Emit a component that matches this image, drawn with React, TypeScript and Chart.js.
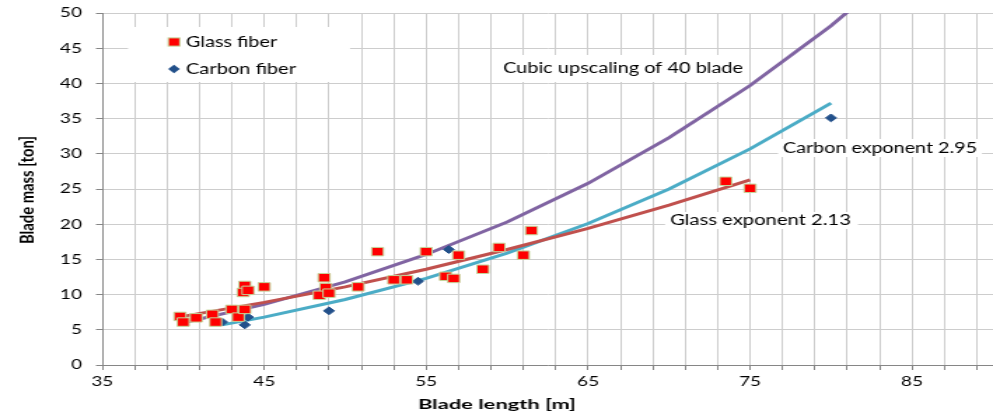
import React, { useEffect, useRef } from 'react';
import { Chart, registerables } from 'chart.js';

Chart.register(...registerables);

// ---------- data ----------
const glassLength = [39.8, 40.0, 40.8, 41.8, 42.0, 43.0, 43.4, 43.8, 43.8, 43.7, 44.0, 45.0, 48.7, 48.8, 48.4, 49.0, 50.8, 52.0, 53.0, 53.8, 55.0, 57.0, 56.2, 56.7, 58.5, 59.5, 61.0, 61.5, 73.5, 75.0];
const glassMass = [6.9, 6.1, 6.7, 7.2, 6.1, 7.9, 6.8, 7.9, 11.3, 10.3, 10.6, 11.1, 12.4, 11.0, 9.9, 10.2, 11.1, 16.1, 12.1, 12.1, 16.1, 15.6, 12.6, 12.3, 13.6, 16.7, 15.6, 19.1, 26.1, 25.1];

const carbonLength = [42.4, 43.8, 44.0, 49.0, 54.5, 56.4, 80.0];
const carbonMass = [6.1, 5.7, 6.8, 7.7, 11.9, 16.4, 35.1];

const cubicLength = [40, 45, 50, 55, 60, 65, 70, 75, 80, 85];
const cubicMass = [6.0, 8.6, 11.8, 15.7, 20.3, 25.8, 32.3, 39.7, 48.2, 57.8];

const carbonFitLength = [42.4, 45, 50, 55, 60, 65, 70, 75, 80];
const carbonFitMass = [5.7, 6.8, 9.3, 12.3, 15.9, 20.1, 25.0, 30.7, 37.2];

const glassFitLength = [39.7, 45, 50, 55, 60, 65, 70, 75];
const glassFitMass = [6.8, 8.9, 11.1, 13.6, 16.4, 19.4, 22.7, 26.3];

const xTickLabels = ['35', '45', '55', '65', '75', '85'];
const xMin = 35;
const xMax = 90;
const xMinorStep = 2;
const yMin = 0;
const yMax = 50;
const yStep = 5;

const seriesNames = ['Glass fiber', 'Carbon fiber'];
const annotationTexts = ['Cubic upscaling of 40 blade', 'Carbon exponent 2.95', 'Glass exponent 2.13'];
const xTitle = 'Blade length [m]';
const yTitle = 'Blade mass [ton]';

// ---------- layout ----------
const CSS_W = 993;
const CSS_H = 417;
const W = 709; // internal canvas width; the picture is stretched horizontally
const S = CSS_W / W;
const FONT = 'Lato';

const GLASS_FILL = '#FF0000';
const GLASS_EDGE = '#C3D69B';
const CARBON = '#22508A';
const GRID = '#CDCDCD';
const AXIS = '#868686';

const toPts = (xs: number[], ys: number[]) => xs.map((x, i) => ({ x, y: ys[i] }));

function fitted(ctx: CanvasRenderingContext2D, text: string, x: number, y: number, targetW: number, font: string, align: CanvasTextAlign, rot = 0) {
  ctx.save();
  ctx.font = font;
  const m = ctx.measureText(text).width;
  ctx.translate(x, y);
  if (rot) ctx.rotate(rot);
  ctx.scale(targetW / m, 1);
  ctx.textAlign = align;
  ctx.textBaseline = 'middle';
  ctx.fillStyle = '#000';
  ctx.fillText(text, 0, 0);
  ctx.restore();
}

const overlayPlugin = {
  id: 'overlay',
  beforeDatasetsDraw(chart: any) {
    const ctx: CanvasRenderingContext2D = chart.ctx;
    ctx.save();
    // white boxes (legend + annotation labels)
    ctx.fillStyle = '#FFFFFF';
    const boxes = [
      [128, 27, 350, 82],
      [498, 55, 748, 82],
      [778, 139, 982, 157],
      [665, 212, 858, 229],
    ];
    boxes.forEach(([x1, y1, x2, y2]) => ctx.fillRect(x1 / S, y1, (x2 - x1) / S, y2 - y1));

    // legend markers
    const mx = 174 / S;
    ctx.fillStyle = GLASS_FILL;
    ctx.strokeStyle = GLASS_EDGE;
    ctx.lineWidth = 1;
    ctx.fillRect(mx - 4.1, 42 - 4.1, 8.2, 8.2);
    ctx.strokeRect(mx - 4.1, 42 - 4.1, 8.2, 8.2);
    ctx.fillStyle = CARBON;
    ctx.beginPath();
    ctx.moveTo(mx - 4.2, 69);
    ctx.lineTo(mx, 64.8);
    ctx.lineTo(mx + 4.2, 69);
    ctx.lineTo(mx, 73.2);
    ctx.closePath();
    ctx.fill();
    ctx.restore();

    const lf = `15px ${FONT}`;
    fitted(ctx, seriesNames[0], 186 / S, 42, 91 / S, lf, 'left');
    fitted(ctx, seriesNames[1], 186 / S, 69, 110 / S, lf, 'left');

    const af = `15.5px ${FONT}`;
    fitted(ctx, annotationTexts[0], 503 / S, 68, 240 / S, af, 'left');
    fitted(ctx, annotationTexts[1], 783 / S, 148, 194 / S, af, 'left');
    fitted(ctx, annotationTexts[2], 670 / S, 220, 181 / S, af, 'left');
  },
  afterDraw(chart: any) {
    const ctx: CanvasRenderingContext2D = chart.ctx;
    const tf = `bold 13.5px ${FONT}`;
    fitted(ctx, xTitle, 497 / S, 405, 158 / S, tf, 'center');
    fitted(ctx, yTitle, 27 / S, 190, 108, tf, 'center', -Math.PI / 2);
  },
};

export default function App() {
  const ref = useRef<HTMLCanvasElement>(null);

  useEffect(() => {
    const canvas = ref.current;
    if (!canvas) return;
    const chart = new Chart(canvas, {
      type: 'scatter',
      data: {
        datasets: [
          {
            label: seriesNames[0],
            data: toPts(glassLength, glassMass),
            pointStyle: 'rect',
            pointRadius: 6.0,
            backgroundColor: GLASS_FILL,
            borderColor: GLASS_EDGE,
            borderWidth: 1,
          },
          {
            label: seriesNames[1],
            data: toPts(carbonLength, carbonMass),
            pointStyle: 'rectRot',
            pointRadius: 3.9,
            backgroundColor: CARBON,
            borderColor: CARBON,
            borderWidth: 1,
          },
          {
            label: annotationTexts[2],
            data: toPts(glassFitLength, glassFitMass),
            showLine: true,
            pointRadius: 0,
            borderColor: '#C0504D',
            backgroundColor: '#C0504D',
            borderWidth: 3,
          },
          {
            label: annotationTexts[1],
            data: toPts(carbonFitLength, carbonFitMass),
            showLine: true,
            pointRadius: 0,
            borderColor: '#4BACC6',
            backgroundColor: '#4BACC6',
            borderWidth: 3,
          },
          {
            label: annotationTexts[0],
            data: toPts(cubicLength, cubicMass),
            showLine: true,
            pointRadius: 0,
            borderColor: '#8064A2',
            backgroundColor: '#8064A2',
            borderWidth: 3,
          },
        ],
      },
      options: {
        animation: false,
        responsive: false,
        devicePixelRatio: 1,
        events: [],
        layout: { autoPadding: false, padding: { top: 13, right: 0, bottom: 0, left: 0 } },
        plugins: {
          legend: { display: false },
          tooltip: { enabled: false },
          title: { display: false },
        },
        scales: {
          x: {
            type: 'linear',
            min: xMin,
            max: xMax,
            afterBuildTicks: (scale: any) => {
              const t = [];
              for (let v = xMin; v < xMax; v += xMinorStep) t.push({ value: v });
              scale.ticks = t;
            },
            afterFit: (scale: any) => {
              scale.height = 52;
              scale.paddingLeft = 0;
              scale.paddingRight = 0;
            },
            grid: { color: GRID, lineWidth: 1, tickLength: 5, tickColor: AXIS },
            border: { color: AXIS, width: 1 },
            ticks: {
              autoSkip: false,
              maxRotation: 0,
              padding: 4,
              color: '#000',
              font: { family: FONT, size: 13.5 },
              callback: (v: any) => (xTickLabels.includes(String(v)) ? String(v) : ''),
            },
          },
          y: {
            type: 'linear',
            min: yMin,
            max: yMax,
            afterFit: (scale: any) => {
              scale.width = 73;
              scale.paddingTop = 0;
              scale.paddingBottom = 0;
            },
            grid: { color: GRID, lineWidth: 1, tickLength: 4.5, tickColor: AXIS },
            border: { color: AXIS, width: 1 },
            ticks: {
              stepSize: yStep,
              padding: 10,
              color: '#000',
              font: { family: FONT, size: 13.5 },
            },
          },
        },
      },
      plugins: [overlayPlugin],
    });
    return () => chart.destroy();
  }, []);

  return (
    <div style={{ position: 'absolute', left: 0, top: 0, width: CSS_W, height: CSS_H, background: '#fff' }}>
      <canvas ref={ref} width={W} height={CSS_H} style={{ width: `${CSS_W}px`, height: `${CSS_H}px`, display: 'block' }} />
    </div>
  );
}
